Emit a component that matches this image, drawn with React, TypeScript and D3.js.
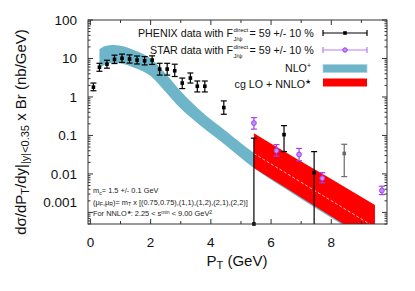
import React from 'react'
import * as d3 from 'd3'

// PHENIX J/psi points (nb/GeV)
const phenixPt = [0.1, 0.3, 0.55, 0.8, 1.05, 1.3, 1.55, 1.8, 2.05, 2.3, 2.55, 2.8, 3.05, 3.32, 3.55, 3.8, 4.43, 5.43, 6.43, 7.43]
const phenixVal = [1.8, 5.9, 7.1, 9.5, 10.1, 9.7, 9.1, 8.7, 9.1, 5.3, 5.3, 4.8, 2.3, 3.1, 1.9, 1.9, 0.53, 0.0004, 0.105, 0.0108]
const phenixLo = [1.45, 4.65, 5.6, 7.4, 7.9, 7.6, 7.2, 6.8, 7.0, 3.7, 3.7, 3.4, 1.65, 2.3, 1.35, 1.35, 0.355, 0.0001, 0.038, 0.0001]
const phenixHi = [2.3, 7.5, 9.0, 12.2, 13, 12.4, 11.6, 11.2, 11.7, 7.5, 7.5, 7.1, 3.1, 4.2, 2.6, 2.6, 0.79, 0.085, 0.18, 0.038]

// the lone grey point
const greyPt = [8.43]
const greyVal = [0.034]
const greyLo = [0.0085]
const greyHi = [0.059]

// STAR points
const starPt = [5.43, 6.18, 6.93, 7.7, 9.68]
const starVal = [0.21, 0.04, 0.032, 0.0077, 0.0037]
const starLo = [0.146, 0.029, 0.022, 0.0059, 0.0029]
const starHi = [0.29, 0.058, 0.046, 0.0108, 0.0048]

// NLO+ band
const nloPt = [0.3, 0.5, 0.75, 1.0, 1.5, 2.0, 2.5, 3.0, 3.63, 4.5, 5.43, 6.5, 7.5, 8.5, 9.3]
const nloLo = [5.7, 7, 7.6, 7.4, 5.6, 3.5, 1.35, 0.5, 0.187, 0.055, 0.0143, 0.004, 0.00127, 0.00041, 0.00015]
const nloHi = [17.5, 21, 22.4, 21.5, 16, 10, 4.0, 1.4, 0.46, 0.13, 0.035, 0.011, 0.0037, 0.0012, 0.00042]

// cg LO + NNLO* band
const nnloPt = [5.43, 6.5, 7.5, 8.5, 9.45]
const nnloLo = [0.0143, 0.0043, 0.00138, 0.00045, 0.00015]
const nnloHi = [0.114, 0.036, 0.0124, 0.0043, 0.00156]
const nnloMidPt = [5.43, 9.45]
const nnloMid = [0.034, 0.00041]

const yMajor = [0.001, 0.01, 0.1, 1, 10, 100]
const yMajorLabels = ['0.001', '0.01', '0.1', '1', '10', '100']
const xMajor = [0, 2, 4, 6, 8]
const xMinor = [1, 3, 5, 7, 9]

const font = 'Liberation Sans, Arial, Helvetica, sans-serif'
const blue = '#6fb5ca'
const purple = '#a040f0'

const App: React.FunctionComponent = () => {
  const left = 88
  const right = 387
  const top = 20
  const bottom = 224

  const x = d3.scaleLinear().domain([-0.08, 9.85]).range([left, right])
  const y = d3.scaleLog().domain([0.0005, 100]).range([bottom, top])
  const yc = (v: number) => y(Math.max(v, 0.0005))

  const band = (pt: number[], lo: number[], hi: number[]) =>
    d3
      .area<number>()
      .x(d => x(d))
      .y0((_, i) => y(lo[i]))
      .y1((_, i) => y(hi[i]))
      .curve(d3.curveMonotoneX)(pt) || ''

  const midLine =
    d3
      .line<number>()
      .x(d => x(d))
      .y((_, i) => y(nnloMid[i]))(nnloMidPt) || ''

  const yMinor = y.ticks().filter(t => !yMajor.some(m => Math.abs(m - t) / m < 1e-6))

  const errorBars = (pt: number[], val: number[], lo: number[], hi: number[], color: string, kind: 'square' | 'circle', key: string) =>
    pt.map((p, i) => {
      const cx = x(p)
      return (
        <g key={key + i} stroke={color} strokeWidth={1.2}>
          <line x1={cx} x2={cx} y1={yc(lo[i])} y2={yc(hi[i])} />
          <line x1={cx - 3} x2={cx + 3} y1={yc(hi[i])} y2={yc(hi[i])} />
          {lo[i] >= 0.0005 && <line x1={cx - 3} x2={cx + 3} y1={yc(lo[i])} y2={yc(lo[i])} />}
          {kind === 'square' ? (
            <rect x={cx - 1.8} y={yc(val[i]) - 1.8} width={3.6} height={3.6} fill={color} stroke="none" />
          ) : (
            <circle cx={cx} cy={yc(val[i])} r={2.4} fill="#c58cff" strokeWidth={1} />
          )}
        </g>
      )
    })

  return (
    <svg width={415} height={291} style={{ position: 'absolute', left: 0, top: 0, background: '#fff' }} fontFamily={font}>
      <defs>
        <clipPath id="plot">
          <rect x={left} y={top} width={right - left} height={bottom - top} />
        </clipPath>
      </defs>

      <g clipPath="url(#plot)">
        <path d={band(nloPt, nloLo, nloHi)} fill={blue} />
        <path d={band(nnloPt, nnloLo, nnloHi)} fill="#ff0000" />
        <path d={midLine} fill="none" stroke="#f4d0d0" strokeWidth={0.9} strokeDasharray="3,2" />
      </g>

      {/* notes */}
      <g fontSize={7.4} fill="#222">
        <text x={93} y={193}>
          m<tspan fontSize={5.2} dy={1.5}>c</tspan>
          <tspan dy={-1.5}>= 1.5 +/- 0.1 GeV</tspan>
        </text>
        <text x={93} y={204.5}>
          (μ<tspan fontSize={5.2} dy={1.5}>F</tspan>
          <tspan dy={-1.5}>,μ</tspan>
          <tspan fontSize={5.2} dy={1.5}>R</tspan>
          <tspan dy={-1.5}>)= m</tspan>
          <tspan fontSize={5.2} dy={1.5}>T</tspan>
          <tspan dy={-1.5}> x [(0.75,0.75),(1,1),(1,2),(2,1),(2,2)]</tspan>
        </text>
        <text x={93} y={216}>
          For NNLO<tspan fontSize={5.2} dy={-2.5}>★</tspan>
          <tspan dy={2.5}>: 2.25  &lt; s</tspan>
          <tspan fontSize={5.2} dy={-2.5}>min</tspan>
          <tspan dy={2.5}> &lt;  9.00 GeV</tspan>
          <tspan fontSize={5.2} dy={-2.5}>2</tspan>
        </text>
      </g>

      {errorBars(phenixPt, phenixVal, phenixLo, phenixHi, '#000', 'square', 'ph')}
      {errorBars(greyPt, greyVal, greyLo, greyHi, '#6a6a6a', 'square', 'gr')}
      {errorBars(starPt, starVal, starLo, starHi, purple, 'circle', 'st')}

      {/* frame and ticks */}
      <g stroke="#333" strokeWidth={1}>
        <rect x={left} y={top} width={right - left} height={bottom - top} fill="none" />
        {yMajor.map(v => (
          <g key={'ym' + v}>
            <line x1={left} x2={left + 5} y1={y(v)} y2={y(v)} />
            <line x1={right} x2={right - 5} y1={y(v)} y2={y(v)} />
          </g>
        ))}
        {yMinor.map(v => (
          <g key={'yn' + v}>
            <line x1={left} x2={left + 2.5} y1={y(v)} y2={y(v)} />
            <line x1={right} x2={right - 2.5} y1={y(v)} y2={y(v)} />
          </g>
        ))}
        {xMajor.map(v => (
          <g key={'xm' + v}>
            <line x1={x(v)} x2={x(v)} y1={bottom} y2={bottom - 5} />
            <line x1={x(v)} x2={x(v)} y1={top} y2={top + 5} />
          </g>
        ))}
        {xMinor.map(v => (
          <g key={'xn' + v}>
            <line x1={x(v)} x2={x(v)} y1={bottom} y2={bottom - 3} />
            <line x1={x(v)} x2={x(v)} y1={top} y2={top + 3} />
          </g>
        ))}
      </g>

      {/* tick labels */}
      <g fontSize={13.5} fill="#111">
        {yMajor.map((v, i) => (
          <text key={'yl' + v} x={77} y={y(v) + (v === 0.001 ? -10 : 0)} dy="0.36em" textAnchor="end">
            {yMajorLabels[i]}
          </text>
        ))}
        {xMajor.map(v => (
          <text key={'xl' + v} x={x(v)} y={246.5} textAnchor="middle">
            {v}
          </text>
        ))}
      </g>

      {/* axis titles */}
      <text x={237} y={266} fontSize={15} textAnchor="middle" fill="#111">
        P<tspan fontSize={11} dy={3}>T</tspan>
        <tspan dy={-3}> (GeV)</tspan>
      </text>
      <text transform="translate(26,132) rotate(-90)" fontSize={15} textAnchor="middle" fill="#111">
        dσ/dP<tspan fontSize={11} dy={3}>T</tspan>
        <tspan dy={-3}>/dy|</tspan>
        <tspan fontSize={11} dy={3}>|y|&lt;0.35</tspan>
        <tspan dy={-3}> x Br (nb/GeV)</tspan>
      </text>

      {/* legend */}
      <g fontSize={10.7} fill="#111">
        <text x={233} y={37} textAnchor="end">PHENIX data with F</text>
        <text x={233.5} y={31.5} fontSize={6}>direct</text>
        <text x={233.5} y={41} fontSize={6}>J/ψ</text>
        <text x={249.5} y={37}>= 59 +/- 10 %</text>

        <text x={233} y={54} textAnchor="end">STAR data with F</text>
        <text x={233.5} y={48.5} fontSize={6}>direct</text>
        <text x={233.5} y={58} fontSize={6}>J/ψ</text>
        <text x={249.5} y={54}>= 59 +/- 10 %</text>

        <text x={311} y={72} textAnchor="end">
          NLO<tspan fontSize={7} dy={-4}>+</tspan>
        </text>
        <text x={311} y={88} textAnchor="end">
          cg LO + NNLO<tspan fontSize={7} dy={-4}>★</tspan>
        </text>
      </g>
      <g strokeWidth={1.2}>
        <line x1={323} x2={367} y1={33} y2={33} stroke="#000" />
        <line x1={323} x2={323} y1={30} y2={36} stroke="#000" />
        <line x1={367} x2={367} y1={30} y2={36} stroke="#000" />
        <rect x={343.2} y={31.2} width={3.6} height={3.6} fill="#000" />
        <line x1={323} x2={367} y1={50} y2={50} stroke="#b67cf5" />
        <line x1={323} x2={323} y1={47} y2={53} stroke="#b67cf5" />
        <line x1={367} x2={367} y1={47} y2={53} stroke="#b67cf5" />
        <circle cx={345} cy={50} r={2.2} fill="#c58cff" stroke={purple} strokeWidth={1} />
      </g>
      <rect x={323} y={64.5} width={44} height={8} fill={blue} stroke="#a8d4e2" strokeWidth={0.8} />
      <rect x={323} y={78.5} width={44} height={8} fill="#ff0000" />
    </svg>
  )
}

export default App
